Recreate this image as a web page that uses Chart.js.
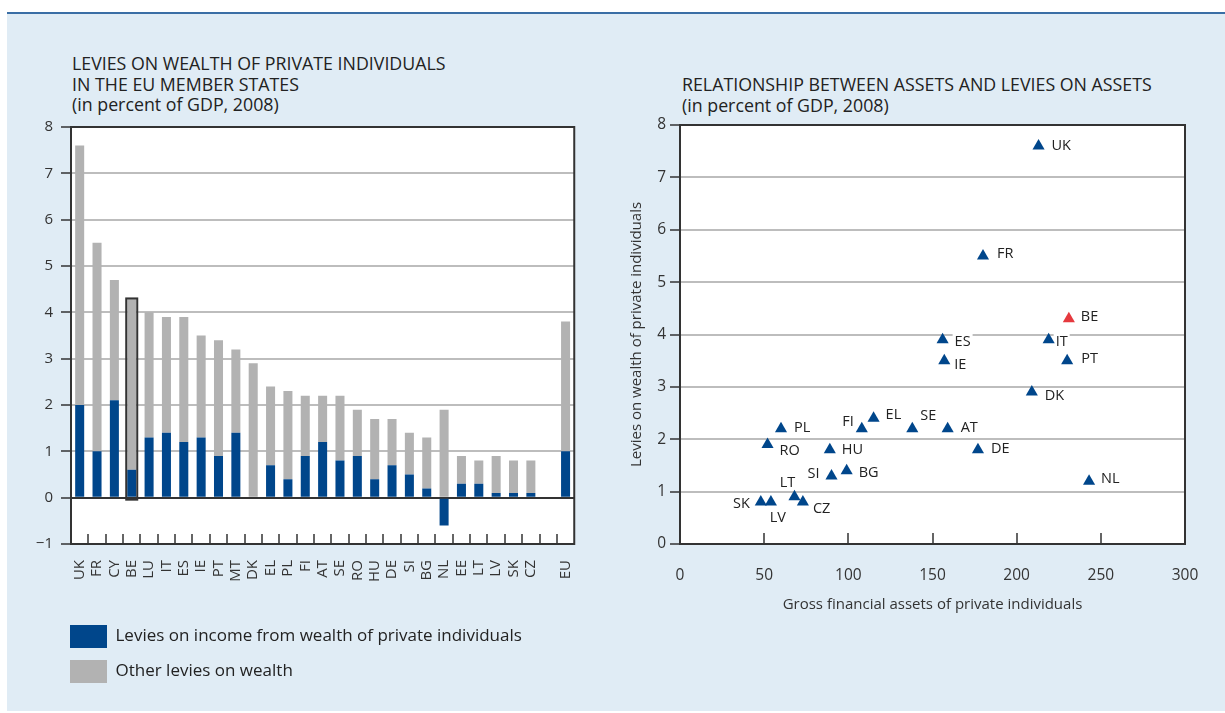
<!DOCTYPE html>
<html>
<head>
<meta charset="utf-8">
<script src="https://cdn.jsdelivr.net/npm/chart.js@4.4.1/dist/chart.umd.min.js"></script>
<style>
  body { margin: 0; width: 1225px; height: 713px; background: #fff; font-family: "Open Sans", sans-serif; position: relative; overflow: hidden; }
  #panel { position: absolute; left: 7px; top: 12px; width: 1218px; height: 697px; background: #e0ecf5; border-top: 2px solid #3a6ea5; }
  .title { position: absolute; font-size: 17.8px; line-height: 20.5px; color: #222; white-space: nowrap; }
  canvas { position: absolute; }
</style>
</head>
<body>
<div id="panel"></div>
<div class="title" style="left:72px;top:53px">LEVIES ON WEALTH OF PRIVATE INDIVIDUALS<br>IN THE EU MEMBER STATES<br>(in percent of GDP, 2008)</div>
<div class="title" style="left:682px;top:74px">RELATIONSHIP BETWEEN ASSETS AND LEVIES ON ASSETS<br>(in percent of GDP, 2008)</div>
<canvas id="chart1" width="600" height="600" style="left:0;top:110px"></canvas>
<canvas id="chart2" width="625" height="530" style="left:600px;top:110px"></canvas>
<script>
// Bar chart data (percent of GDP, 2008)
const countries = ['UK','FR','CY','BE','LU','IT','ES','IE','PT','MT','DK','EL','PL','FI','AT','SE','RO','HU','DE','SI','BG','NL','EE','LT','LV','SK','CZ','','EU'];
const incomeLevies = [2.0,1.0,2.1,0.6,1.3,1.4,1.2,1.3,0.9,1.4,0,0.7,0.4,0.9,1.2,0.8,0.9,0.4,0.7,0.5,0.2,-0.6,0.3,0.3,0.1,0.1,0.1,null,1.0];
const otherLevies = [5.6,4.5,2.6,3.7,2.7,2.5,2.7,2.2,2.5,1.8,2.9,1.7,1.9,1.3,1.0,1.4,1.0,1.3,1.0,0.9,1.1,1.9,0.6,0.5,0.8,0.7,0.7,null,2.8];

// Scatter data
const scatterCodes = ['UK','FR','BE','ES','IT','IE','PT','DK','EL','FI','SE','AT','PL','RO','HU','DE','SI','BG','NL','LT','SK','LV','CZ'];
const grossAssets = [213,180,231,156,219,157,230,209,115,108,138,159,60,52,89,177,90,99,243,68,48,54,73];
const wealthLevies = [7.6,5.5,4.3,3.9,3.9,3.5,3.5,2.9,2.4,2.2,2.2,2.2,2.2,1.9,1.8,1.8,1.3,1.4,1.2,0.9,0.8,0.8,0.8];

// where each scatter label sits relative to its marker: [dx, dy, align]
const labelPlacement = {
  UK:[13,0,'left'], FR:[14,-2,'left'], BE:[12,-2,'left'], ES:[12,2,'left'], IT:[7,2,'left'],
  IE:[10,4,'left'], PT:[14,-2,'left'], DK:[13,4,'left'], EL:[12,-3,'left'], FI:[-8,-7,'right'],
  SE:[8,-13,'left'], AT:[13,-1,'left'], PL:[13,-1,'left'], RO:[12,6,'left'], HU:[12,0,'left'],
  DE:[13,-1,'left'], SI:[-12,-2,'right'], BG:[12,2,'left'], NL:[12,-2,'left'], LT:[-7,-14,'center'],
  SK:[-11,2,'right'], LV:[7,16,'center'], CZ:[10,7,'left']
};

const blue = '#00468b';
const grey = '#b2b2b2';
const dark = '#333333';
const gridGrey = '#bdbdbd';

Chart.defaults.font.family = '"Open Sans", sans-serif';
Chart.defaults.color = '#333';
Chart.defaults.animation = false;

const whiteArea = {
  id: 'whiteArea',
  beforeDraw(chart) {
    const {ctx, chartArea: a} = chart;
    ctx.save();
    ctx.fillStyle = '#fff';
    ctx.fillRect(a.left, a.top, a.right - a.left, a.bottom - a.top);
    ctx.restore();
  }
};

// move the legend so its boxes line up with the axis, like in the print version
const legendShift = {
  id: 'legendShift',
  afterLayout(chart) {
    chart.legend.left += 58;
    chart.legend.right += 58;
  }
};

// frame, inward ticks on the category axis and the outline round BE
const barExtras = {
  id: 'barExtras',
  afterDraw(chart) {
    const {ctx, chartArea: a, scales} = chart;
    ctx.save();
    ctx.strokeStyle = dark;
    ctx.lineWidth = 1.5;
    ctx.beginPath();
    for (let i = 0; i < countries.length - 1; i++) {
      const px = Math.round((scales.x.getPixelForValue(i) + scales.x.getPixelForValue(i + 1)) / 2);
      ctx.moveTo(px, a.bottom);
      ctx.lineTo(px, a.bottom - 10);
    }
    ctx.stroke();

    const bi = countries.indexOf('BE');
    const g = chart.getDatasetMeta(1).data[bi];
    const zero = scales.y.getPixelForValue(0);
    ctx.lineWidth = 2;
    ctx.strokeRect(g.x - g.width / 2 - 1, g.y, g.width + 2, zero - g.y + 2);

    ctx.strokeRect(a.left, a.top, a.right - a.left, a.bottom - a.top);
    ctx.restore();
  }
};

new Chart(document.getElementById('chart1'), {
  type: 'bar',
  data: {
    labels: countries,
    datasets: [{
      label: 'Levies on income from wealth of private individuals',
      data: incomeLevies,
      backgroundColor: blue,
      borderWidth: 0
    }, {
      label: 'Other levies on wealth',
      data: otherLevies,
      backgroundColor: grey,
      borderWidth: 0
    }]
  },
  options: {
    responsive: false,
    layout: { padding: { left: 0, right: 25, top: 15, bottom: 17 } },
    datasets: { bar: { categoryPercentage: 1, barPercentage: 0.52 } },
    plugins: {
      tooltip: { enabled: false },
      legend: {
        position: 'bottom',
        align: 'start',
        labels: { boxWidth: 37, boxHeight: 23, padding: 12, color: '#222', font: { size: 17 } }
      }
    },
    scales: {
      x: {
        stacked: true,
        grid: { display: false, drawTicks: false },
        border: { color: dark, width: 2 },
        ticks: { autoSkip: false, minRotation: 90, maxRotation: 90, padding: 16, font: { size: 15 } },
        afterFit(s) { s.height = 69; }
      },
      y: {
        stacked: true,
        min: -1, max: 8,
        ticks: {
          stepSize: 1, padding: 8, font: { size: 15 },
          callback: v => v < 0 ? '\u2212' + Math.abs(v) : String(v)
        },
        grid: {
          lineWidth: 2,
          color: c => (c.tick && (c.tick.value === 0 || c.tick.value === 8)) ? dark : gridGrey,
          tickColor: dark, tickLength: 10, tickWidth: 1.5
        },
        border: { color: dark, width: 2 },
        afterFit(s) { s.width = 71; }
      }
    }
  },
  plugins: [whiteArea, legendShift, barExtras]
});

const scatterLabels = {
  id: 'scatterLabels',
  beforeDatasetsDraw(chart) {
    const ctx = chart.ctx;
    const meta = chart.getDatasetMeta(0);
    ctx.save();
    ctx.font = '14.5px "Open Sans"';
    ctx.textBaseline = 'middle';
    ctx.textAlign = 'left';
    meta.data.forEach((pt, i) => {
      const code = scatterCodes[i];
      const [dx, dy, align] = labelPlacement[code];
      const w = ctx.measureText(code).width;
      let x = pt.x + dx;
      if (align === 'right') x -= w;
      else if (align === 'center') x -= w / 2;
      const y = pt.y + dy;
      ctx.fillStyle = '#fff';
      ctx.fillRect(x - 2, y - 8, w + 4, 16);
      ctx.fillStyle = '#222';
      ctx.fillText(code, x, y);
    });
    ctx.restore();
  }
};

const scatterExtras = {
  id: 'scatterExtras',
  afterDraw(chart) {
    const {ctx, chartArea: a, scales} = chart;
    ctx.save();
    ctx.strokeStyle = dark;
    ctx.lineWidth = 1.5;
    ctx.beginPath();
    scales.x.ticks.forEach(t => {
      if (t.value <= 0 || t.value >= 300) return;
      const px = Math.round(scales.x.getPixelForValue(t.value));
      ctx.moveTo(px, a.bottom);
      ctx.lineTo(px, a.bottom - 11);
    });
    ctx.stroke();
    ctx.lineWidth = 2;
    ctx.strokeRect(a.left, a.top, a.right - a.left, a.bottom - a.top);
    ctx.restore();
  }
};

new Chart(document.getElementById('chart2'), {
  type: 'scatter',
  data: {
    datasets: [{
      label: 'Levies on wealth',
      data: scatterCodes.map((c, i) => ({ x: grossAssets[i], y: wealthLevies[i] })),
      pointStyle: 'triangle',
      pointRadius: 7,
      pointBorderWidth: 0,
      pointBackgroundColor: scatterCodes.map(c => c === 'BE' ? '#e5393e' : blue)
    }]
  },
  options: {
    responsive: false,
    layout: { padding: { left: 0, right: 40, top: 15, bottom: 16 } },
    plugins: { legend: { display: false }, tooltip: { enabled: false } },
    scales: {
      x: {
        min: 0, max: 300,
        ticks: { stepSize: 50, padding: 22, maxRotation: 0, font: { size: 15.5 } },
        grid: { display: false, drawTicks: false },
        border: { color: dark, width: 2 },
        title: { display: true, text: 'Gross financial assets of private individuals', font: { size: 15 }, padding: { bottom: 10 } },
        afterFit(s) { s.height = 80; }
      },
      y: {
        min: 0, max: 8,
        ticks: { stepSize: 1, padding: 4, font: { size: 15.5 } },
        grid: {
          lineWidth: 2,
          color: c => (c.tick && (c.tick.value === 0 || c.tick.value === 8)) ? dark : gridGrey,
          tickColor: dark, tickLength: 10, tickWidth: 1.5
        },
        border: { color: dark, width: 2 },
        title: { display: true, text: 'Levies on wealth of private individuals', font: { size: 15 }, padding: { top: 28 } },
        afterFit(s) { s.width = 80; }
      }
    }
  },
  plugins: [whiteArea, scatterLabels, scatterExtras]
});
</script>
</body>
</html>
